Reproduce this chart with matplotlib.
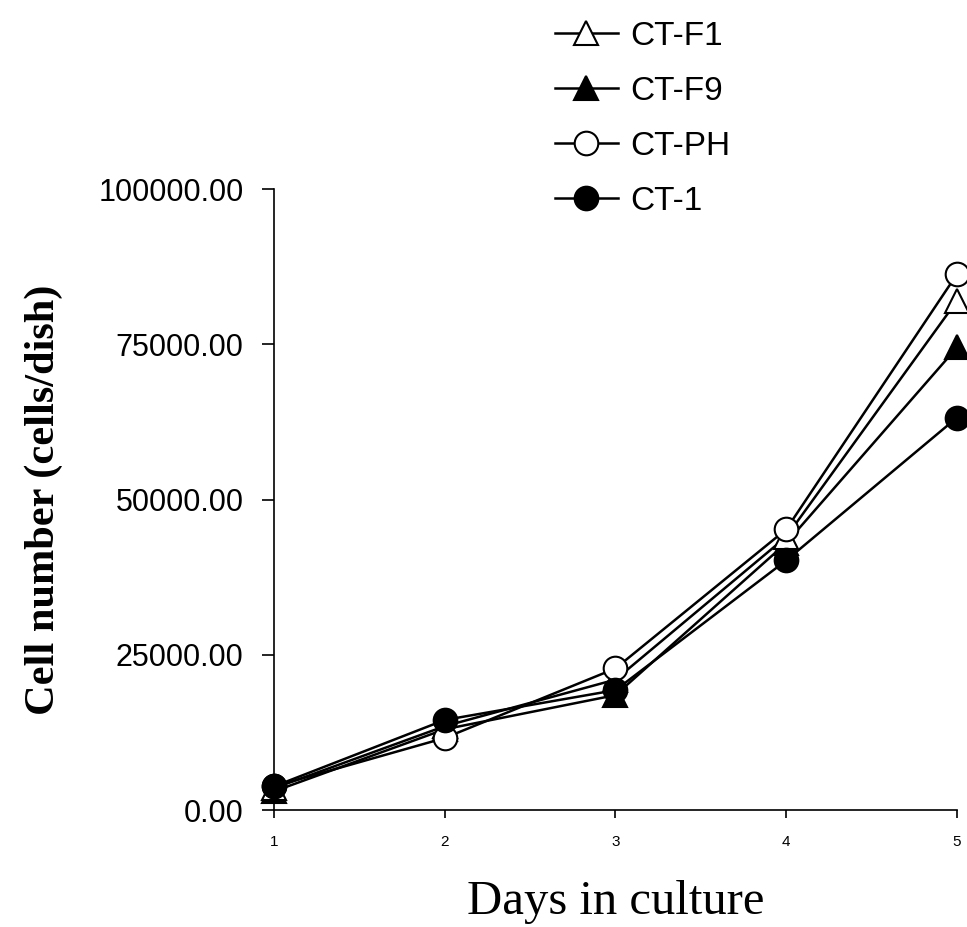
import matplotlib
matplotlib.use("Agg")
import matplotlib.pyplot as plt

# Growth curves: cell number per dish over days in culture
days = [1, 2, 3, 4, 5]
ct_f1 = [3500, 13500, 21000, 44000, 82000]
ct_f9 = [3000, 13000, 18500, 43000, 74500]
ct_ph = [3800, 11600, 22800, 45200, 86300]
ct_1 = [3800, 14500, 19300, 40200, 63200]

y_ticks = [0, 25000, 50000, 75000, 100000]
y_tick_labels = ["0.00", "25000.00", "50000.00", "75000.00", "100000.00"]

fig = plt.figure(figsize=(9.67, 9.27), dpi=100)
ax = fig.add_axes([0.2833, 0.1262, 0.7064, 0.6699])

ms = 17
lw = 1.8
mew = 1.5
common = dict(color="black", lw=lw, ms=ms, mew=mew, mec="black", clip_on=False)

series = [
    ("CT-F1", ct_f1, "^", "white"),
    ("CT-F9", ct_f9, "^", "black"),
    ("CT-PH", ct_ph, "o", "white"),
    ("CT-1", ct_1, "o", "black"),
]
handles = {}
for name, vals, mk, fc in [series[1], series[0], series[2], series[3]]:
    h, = ax.plot(days, vals, marker=mk, mfc=fc, label=name, **common)
    handles[name] = h

ax.set_xlim(1, 5)
ax.set_ylim(0, 100000)
ax.set_xticks(days)
ax.set_xticklabels([str(d) for d in days], fontsize=11, family="Liberation Sans")
ax.set_yticks(y_ticks)
ax.set_yticklabels(y_tick_labels, fontsize=22, family="Liberation Sans")

for s in ("top", "right"):
    ax.spines[s].set_visible(False)
for s in ("left", "bottom"):
    ax.spines[s].set_linewidth(1.2)
ax.tick_params(axis="y", direction="out", length=9, width=1.2, pad=13)
ax.tick_params(axis="x", direction="out", length=6, width=1.2, pad=12)

ax.set_ylabel("Cell number (cells/dish)", fontsize=30.5, fontweight="bold",
              family="Liberation Serif", labelpad=25)
ax.set_xlabel("Days in culture", fontsize=35, family="Liberation Serif", labelpad=22)

leg = fig.legend([handles[n] for n, *_ in series], [n for n, *_ in series],
                 loc="upper left", bbox_to_anchor=(555 / 967, 1 - 21 / 927),
                 frameon=False, handlelength=1.88, handletextpad=0.37,
                 labelspacing=0.72, borderpad=0, borderaxespad=0,
                 prop={"family": "Liberation Sans", "size": 24})

fig.savefig("out.png", dpi=100)
